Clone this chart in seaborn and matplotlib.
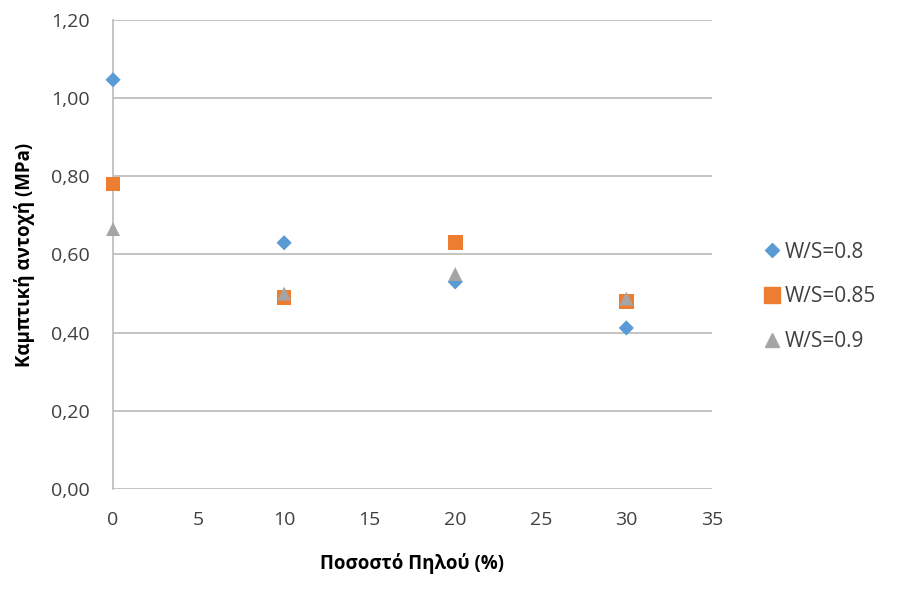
import matplotlib
matplotlib.use("Agg")
import matplotlib.pyplot as plt
import seaborn as sns
import pandas as pd
from matplotlib.lines import Line2D

clay_pct = [0, 10, 20, 30]
ws_08 = [1.047, 0.63, 0.53, 0.412]
ws_085 = [0.78, 0.49, 0.63, 0.48]
ws_09 = [0.665, 0.50, 0.55, 0.487]
series_names = ["W/S=0.8", "W/S=0.85", "W/S=0.9"]
y_ticks = [0.0, 0.2, 0.4, 0.6, 0.8, 1.0, 1.2]
x_ticks = [0, 5, 10, 15, 20, 25, 30, 35]

rows = []
for name, vals in zip(series_names, [ws_08, ws_085, ws_09]):
    for x, v in zip(clay_pct, vals):
        rows.append({"x": x, "y": v, "series": name})
df = pd.DataFrame(rows)

sns.set_theme(style="white")
plt.rcParams['font.family'] = ['Open Sans', 'DejaVu Sans']

fig = plt.figure(figsize=(9.08, 6.0), dpi=100)
ax = fig.add_axes([0.1245, 0.185, 0.784 - 0.1245, 0.9667 - 0.185])

palette = {"W/S=0.8": "#5B9BD5", "W/S=0.85": "#ED7D31", "W/S=0.9": "#A5A5A5"}
markers = {"W/S=0.8": "D", "W/S=0.85": "s", "W/S=0.9": "^"}
sizes = {"W/S=0.8": 60, "W/S=0.85": 110, "W/S=0.9": 100}

for name in series_names:
    sub = df[df.series == name]
    sns.scatterplot(data=sub, x="x", y="y", color=palette[name], marker=markers[name],
                    s=sizes[name], edgecolor="none", ax=ax, clip_on=False, zorder=3,
                    legend=False)

ax.set_xlim(0, 35)
ax.set_ylim(0, 1.2)
ax.set_xticks(x_ticks)
ax.set_yticks(y_ticks)
ax.set_yticklabels([f"{v:.2f}".replace(".", ",") for v in y_ticks])
ax.set_xticklabels([str(v) for v in x_ticks])
ax.yaxis.grid(True, color="#BFBFBF", linewidth=1.3)
ax.xaxis.grid(False)
for s in ["top", "right", "bottom"]:
    ax.spines[s].set_visible(False)
ax.spines["left"].set_color("#BFBFBF")
ax.spines["left"].set_linewidth(1.3)
ax.tick_params(axis="both", length=0, labelsize=14, colors="#404040")
ax.tick_params(axis="y", pad=17)
ax.tick_params(axis="x", pad=16)
ax.set_xlabel("Ποσοστό Πηλού (%)", fontsize=13.5, fontweight="bold", labelpad=17, color="#000000")
ax.set_ylabel("Καμπτική αντοχή (MPa)", fontsize=13.5, fontweight="bold", labelpad=11, color="#000000")

leg_handles = [
    Line2D([], [], linestyle="none", marker="D", color=palette["W/S=0.8"], markersize=7),
    Line2D([], [], linestyle="none", marker="s", color=palette["W/S=0.85"], markersize=11),
    Line2D([], [], linestyle="none", marker="^", color=palette["W/S=0.9"], markersize=10),
]
fig.legend(leg_handles, series_names, loc="center left", bbox_to_anchor=(0.818, 0.505),
           frameon=False, fontsize=15, handletextpad=0.1, labelspacing=1.15,
           handlelength=1.0, labelcolor="#404040")

fig.savefig("out.png", dpi=100)
